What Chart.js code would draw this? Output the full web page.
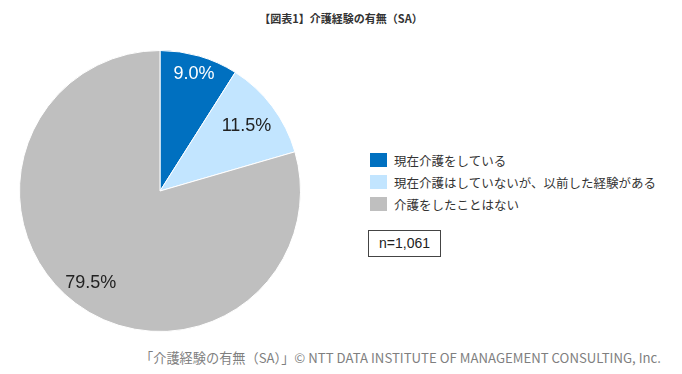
<!DOCTYPE html>
<html><head><meta charset="utf-8">
<script src="https://cdn.jsdelivr.net/npm/chart.js@4/dist/chart.umd.min.js"></script>
<style>
html,body{margin:0;padding:0;background:#fff;width:682px;height:374px;overflow:hidden;font-family:"Noto Sans CJK JP","Liberation Sans",sans-serif;}
#title{position:absolute;left:0;width:682px;top:10px;text-align:center;font-size:11px;font-weight:bold;color:#333;}
#wrap{position:absolute;left:19px;top:50px;width:282px;height:282px;}
#legend{position:absolute;left:370px;top:149px;width:300px;}
.li{display:flex;align-items:center;height:22px;font-size:12.5px;color:#333;white-space:nowrap;}
.sw{width:17px;height:14px;margin-right:7px;flex:none;}
#nbox{position:absolute;left:368px;top:230px;width:73px;height:27px;border:1px solid #444;font-family:"Liberation Sans",sans-serif;font-size:14px;color:#222;text-align:center;line-height:25px;box-sizing:border-box;}
#foot{position:absolute;right:21px;top:348px;font-size:13.2px;color:#7f7f7f;font-family:"Noto Sans CJK JP","Liberation Sans",sans-serif;white-space:nowrap;}
</style></head><body>
<div id="title">【図表1】介護経験の有無（SA）</div>
<div id="wrap"><canvas id="c"></canvas></div>
<div id="legend"></div>
<div id="nbox">n=1,061</div>
<div id="foot">「介護経験の有無（SA）」© NTT DATA INSTITUTE OF MANAGEMENT CONSULTING, Inc.</div>
<script>
const categories = ["現在介護をしている", "現在介護はしていないが、以前した経験がある", "介護をしたことはない"];
const values = [9.0, 11.5, 79.5];
const valueLabels = ["9.0%", "11.5%", "79.5%"];
const colors = ["#0070C0", "#C2E5FF", "#BFBFBF"];
const labelColors = ["#ffffff", "#222222", "#222222"];
const labelRadius = [0.87, 0.77, 0.82];

const labelPlugin = {
  id: 'sliceLabels',
  afterDatasetsDraw(chart) {
    const ctx = chart.ctx;
    const meta = chart.getDatasetMeta(0);
    ctx.save();
    ctx.font = '18px "Liberation Sans", Arial, sans-serif';
    ctx.textAlign = 'center';
    ctx.textBaseline = 'middle';
    meta.data.forEach((arc, i) => {
      const a = (arc.startAngle + arc.endAngle) / 2;
      const r = arc.outerRadius * labelRadius[i];
      ctx.fillStyle = labelColors[i];
      ctx.fillText(valueLabels[i], arc.x + Math.cos(a) * r, arc.y + Math.sin(a) * r);
    });
    ctx.restore();
  }
};

const chart = new Chart(document.getElementById('c'), {
  type: 'pie',
  data: { labels: categories, datasets: [{ data: values, backgroundColor: colors, borderColor: '#ffffff', borderWidth: 1 }] },
  options: {
    responsive: true, maintainAspectRatio: false, animation: false,
    layout: { padding: 0 },
    plugins: { legend: { display: false }, tooltip: { enabled: false } }
  },
  plugins: [labelPlugin]
});

const leg = document.getElementById('legend');
chart.options.plugins.legend.labels.generateLabels(chart).forEach(item => {
  const d = document.createElement('div'); d.className = 'li';
  const s = document.createElement('div'); s.className = 'sw'; s.style.background = item.fillStyle;
  const t = document.createElement('span'); t.textContent = item.text;
  d.appendChild(s); d.appendChild(t); leg.appendChild(d);
});
</script>
</body></html>
